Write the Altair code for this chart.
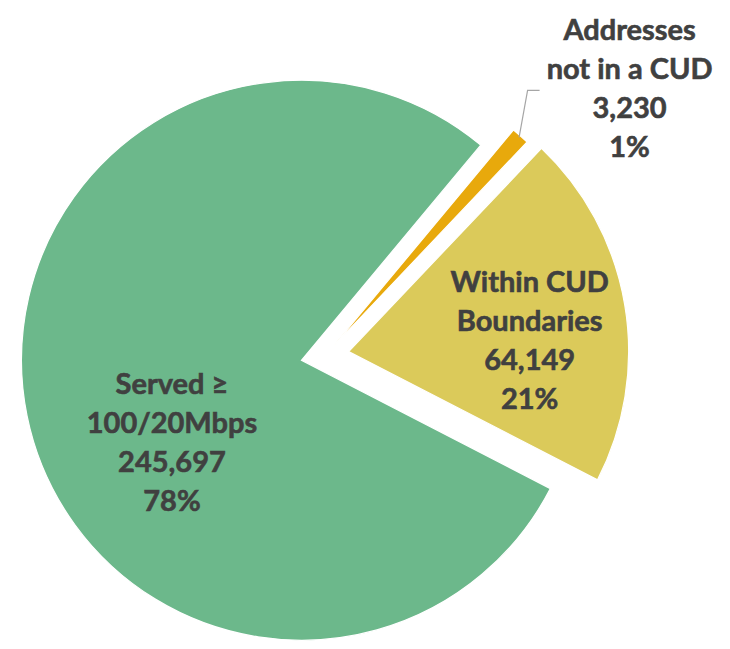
import math
import altair as alt
import pandas as pd

# ---- data ----
categories = ["Addresses not in a CUD", "Within CUD Boundaries", "Served ≥ 100/20Mbps"]
label_lines = [["Addresses", "not in a CUD"], ["Within CUD", "Boundaries"], ["Served ≥", "100/20Mbps"]]
values = [3230, 64149, 245697]
percent_labels = ["1%", "21%", "78%"]

# ---- style / layout ----
colors = ["#e8a90c", "#dbca5a", "#6cb88b"]
W, H = 714, 633
CX, CY = 317, 347.5
R = 280
START_DEG = 39.8
EXPLODE = [14, 24, 24]
LINE_H = 39
LABEL_OFFSET = [(90, -1), (181, -9.5), (-129.5, 83.7)]  # label-block centre relative to slice centre (orange: to leader end)

total = sum(values)
rows, labels, leader = [], [], []
acc = math.radians(START_DEG)
for i, (c, v) in enumerate(zip(categories, values)):
    span = v / total * 2 * math.pi
    t0, t1 = acc, acc + span
    acc = t1
    mid = (t0 + t1) / 2
    sx = CX + EXPLODE[i] * math.sin(mid)
    sy = CY - EXPLODE[i] * math.cos(mid)
    rows.append({"cat": c, "t0": t0, "t1": t1, "cx": sx, "cy": sy})
    lines = label_lines[i] + [f"{v:,}", percent_labels[i]]
    text = "\n".join(lines)
    shift = (len(lines) - 1) / 2 * LINE_H
    if i == 0:
        tipx = sx + (R - 2) * math.sin(mid)
        tipy = sy - (R - 2) * math.cos(mid)
        ex, ey = tipx + 8.5, tipy - 47
        fx, fy = ex + 12, ey
        leader += [{"o": 0, "x": tipx, "y": tipy}, {"o": 1, "x": ex, "y": ey}, {"o": 2, "x": fx, "y": fy}]
        labels.append({"text": text, "x": fx + LABEL_OFFSET[i][0], "y": fy + LABEL_OFFSET[i][1] - shift})
    else:
        labels.append({"text": text, "x": sx + LABEL_OFFSET[i][0], "y": sy + LABEL_OFFSET[i][1] - shift})

slices = pd.DataFrame(rows)
lab = pd.DataFrame(labels)
lead = pd.DataFrame(leader)

arcs = alt.Chart(slices).mark_arc(radius=R, stroke="white", strokeWidth=1.2).encode(
    theta=alt.Theta("t0:Q", scale=None),
    theta2="t1:Q",
    x=alt.X("cx:Q", scale=None),
    y=alt.Y("cy:Q", scale=None),
    color=alt.Color("cat:N", scale=alt.Scale(domain=categories, range=colors), legend=None),
)

line = alt.Chart(lead).mark_line(color="#a6a6a6", strokeWidth=1.2).encode(
    x=alt.X("x:Q", scale=None),
    y=alt.Y("y:Q", scale=None),
    order="o:Q",
)

texts = alt.Chart(lab).mark_text(
    lineBreak="\n", lineHeight=LINE_H, font="Lato", fontWeight="bold", fontSize=29,
    color="#404040", stroke="#404040", strokeWidth=0.6,
    align="center", baseline="middle",
).encode(
    x=alt.X("x:Q", scale=None),
    y=alt.Y("y:Q", scale=None),
    text="text:N",
)

chart = alt.layer(arcs, line, texts).properties(
    width=W, height=H, padding=0, background="white"
).configure_view(stroke=None)

chart.save("out.html", embed_options={"renderer": "svg", "actions": False})
